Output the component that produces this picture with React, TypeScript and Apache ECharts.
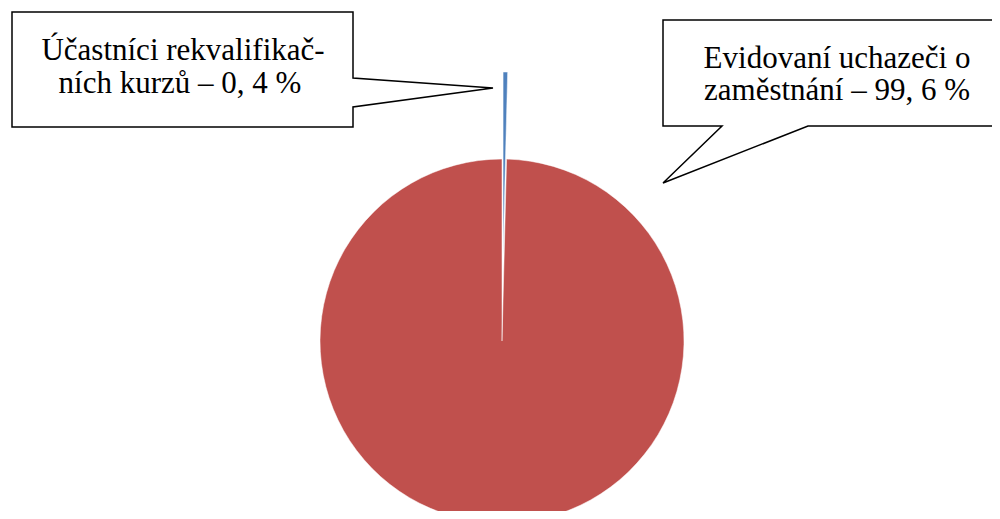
import React, { useEffect, useRef } from "react";
import * as echarts from "echarts";

const categories = ["Účastníci rekvalifikačních kurzů", "Evidovaní uchazeči o zaměstnání"];
const values = [0.4, 99.6];
const colors = ["#4F81BD", "#C0504D"];
const labelLines = [
  ["Účastníci rekvalifikač-", "ních kurzů – 0, 4 %"],
  ["Evidovaní uchazeči o", "zaměstnání – 99, 6 %"],
];

export default function App() {
  const ref = useRef<HTMLDivElement>(null);
  useEffect(() => {
    if (!ref.current) return;
    const chart = echarts.init(ref.current, undefined, { renderer: "svg" });
    const textLine = (x: number, y: number, t: string) => ({
      type: "text",
      x,
      y,
      z: 10,
      style: {
        text: t,
        fontFamily: "Liberation Serif",
        fontSize: 31,
        fill: "#000",
        align: "center",
        verticalAlign: "middle",
      },
    });
    chart.setOption({
      animation: false,
      backgroundColor: "#fff",
      series: [
        {
          type: "pie",
          center: [502, 341],
          radius: 182,
          startAngle: 90,
          clockwise: true,
          selectedMode: "single",
          selectedOffset: 87,
          label: { show: false },
          labelLine: { show: false },
          emphasis: { disabled: true },
          itemStyle: { borderColor: "#fff", borderWidth: 0.5 },
          data: categories.map((c, i) => ({
            name: c,
            value: values[i],
            selected: i === 0,
            itemStyle: { color: colors[i] },
          })),
        },
      ],
      graphic: [
        {
          type: "polygon",
          z: 10,
          shape: {
            points: [
              [12, 12],
              [353, 12],
              [353, 78],
              [493, 88],
              [353, 107],
              [353, 127],
              [12, 127],
            ],
          },
          style: { fill: "#fff", stroke: "#000", lineWidth: 1.5 },
        },
        {
          type: "polygon",
          z: 10,
          shape: {
            points: [
              [663, 20],
              [999, 20],
              [999, 126],
              [808, 126],
              [663, 183],
              [722, 126],
              [663, 126],
            ],
          },
          style: { fill: "#fff", stroke: "#000", lineWidth: 1.5 },
        },
        textLine(183, 49, labelLines[0][0]),
        textLine(180, 82, labelLines[0][1]),
        textLine(837, 57, labelLines[1][0]),
        textLine(837, 89, labelLines[1][1]),
      ],
    });
    return () => chart.dispose();
  }, []);
  return <div ref={ref} style={{ width: 1000, height: 519, margin: -8 }} />;
}
